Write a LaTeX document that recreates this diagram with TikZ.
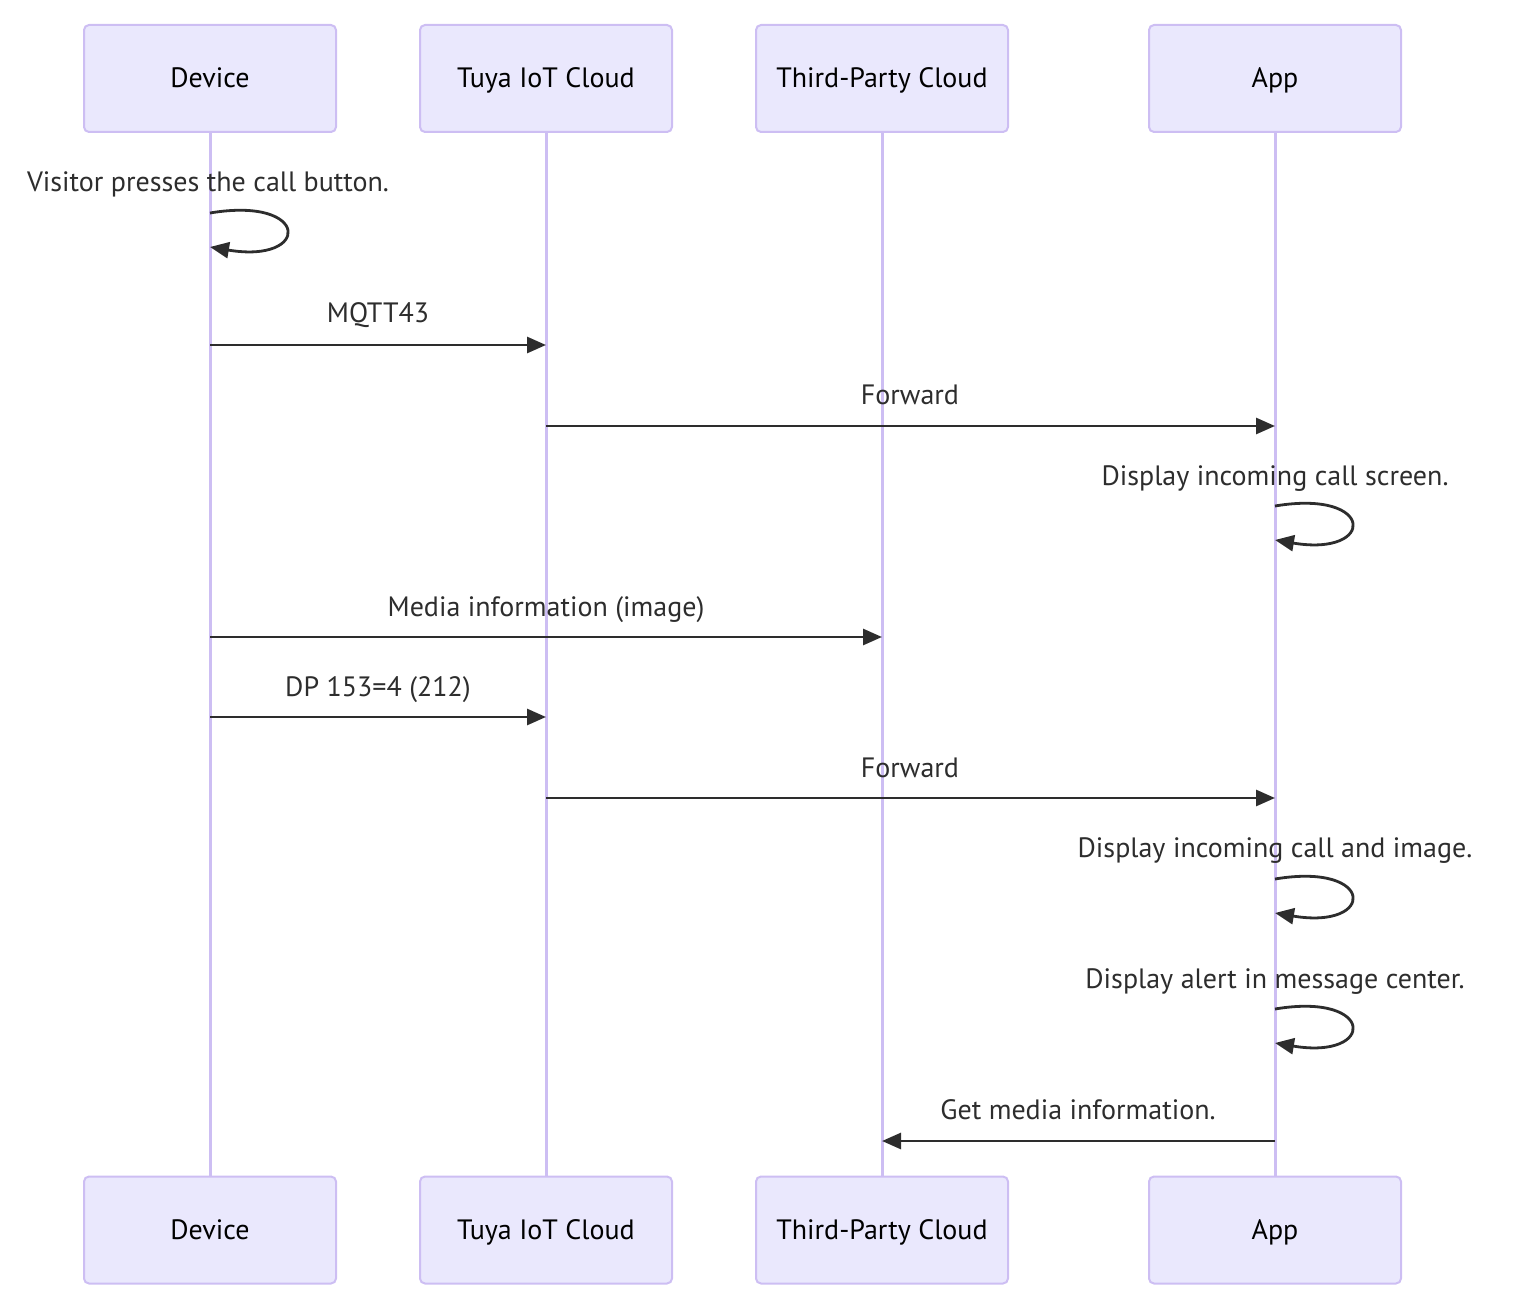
\documentclass[tikz,border=0pt]{standalone}
\usepackage{fontspec}
\setmainfont{PT Sans}
\usepackage{tikz}
\usetikzlibrary{arrows.meta,calc}
\definecolor{ActorFill}{RGB}{234,232,253}
\definecolor{ActorLine}{RGB}{205,190,243}
\definecolor{MsgInk}{RGB}{45,45,45}

\begin{document}
\begin{tikzpicture}[x=1pt, y=-1pt,
    actor/.style={draw=ActorLine, fill=ActorFill, line width=2pt, rounded corners=5pt,
      minimum width=252pt, minimum height=107pt, text height=22pt, text depth=3pt,
      font=\fontsize{28}{33}\selectfont},
    lifeline/.style={draw=ActorLine, line width=3pt},
    msg/.style={draw=MsgInk, line width=2.8pt, -{Triangle[length=19pt,width=16pt]}},
    msglabel/.style={anchor=base, text=MsgInk, font=\fontsize{28}{33}\selectfont}]
  \useasboundingbox (0,0) rectangle (1524,1316);

  % actors, top and bottom
  \node[actor] (devtop) at (210,78.5) {Device};
  \node[actor] (tuyatop) at (546,78.5) {Tuya IoT Cloud};
  \node[actor] (thirdtop) at (882,78.5) {Third-Party Cloud};
  \node[actor] (apptop) at (1275,78.5) {App};
  \node[actor] (devbot) at (210,1230) {Device};
  \node[actor] (tuyabot) at (546,1230) {Tuya IoT Cloud};
  \node[actor] (thirdbot) at (882,1230) {Third-Party Cloud};
  \node[actor] (appbot) at (1275,1230) {App};

  % lifelines
  \draw[lifeline] (devtop) -- (devbot);
  \draw[lifeline] (tuyatop) -- (tuyabot);
  \draw[lifeline] (thirdtop) -- (thirdbot);
  \draw[lifeline] (apptop) -- (appbot);

  % messages
  \node[msglabel] (m1) at (208,192) {Visitor presses the call button.};
  \draw[msg] (devtop.south |- 0,213) .. controls +(101,-17) and +(101,17) .. (devtop.south |- 0,247);

  \node[msglabel] (m2) at (378,323) {MQTT43};
  \draw[msg] (devtop.south |- 0,345) -- (tuyatop.south |- 0,345);

  \node[msglabel] (m3) at (910,404) {Forward};
  \draw[msg] (tuyatop.south |- 0,426) -- (apptop.south |- 0,426);

  \node[msglabel] (m4) at (1275,485) {Display incoming call screen.};
  \draw[msg] (apptop.south |- 0,506) .. controls +(101,-17) and +(101,17) .. (apptop.south |- 0,540);

  \node[msglabel] (m5) at (546,616) {Media information (image)};
  \draw[msg] (devtop.south |- 0,637) -- (thirdtop.south |- 0,637);

  \node[msglabel] (m6) at (378,696) {DP 153=4 (212)};
  \draw[msg] (devtop.south |- 0,717) -- (tuyatop.south |- 0,717);

  \node[msglabel] (m7) at (910,777) {Forward};
  \draw[msg] (tuyatop.south |- 0,798) -- (apptop.south |- 0,798);

  \node[msglabel] (m8) at (1275,857) {Display incoming call and image.};
  \draw[msg] (apptop.south |- 0,879) .. controls +(101,-17) and +(101,17) .. (apptop.south |- 0,913);

  \node[msglabel] (m9) at (1275,988) {Display alert in message center.};
  \draw[msg] (apptop.south |- 0,1009) .. controls +(101,-17) and +(101,17) .. (apptop.south |- 0,1043);

  \node[msglabel] (m10) at (1078,1119) {Get media information.};
  \draw[msg] (apptop.south |- 0,1141) -- (thirdtop.south |- 0,1141);
\end{tikzpicture}
\end{document}
